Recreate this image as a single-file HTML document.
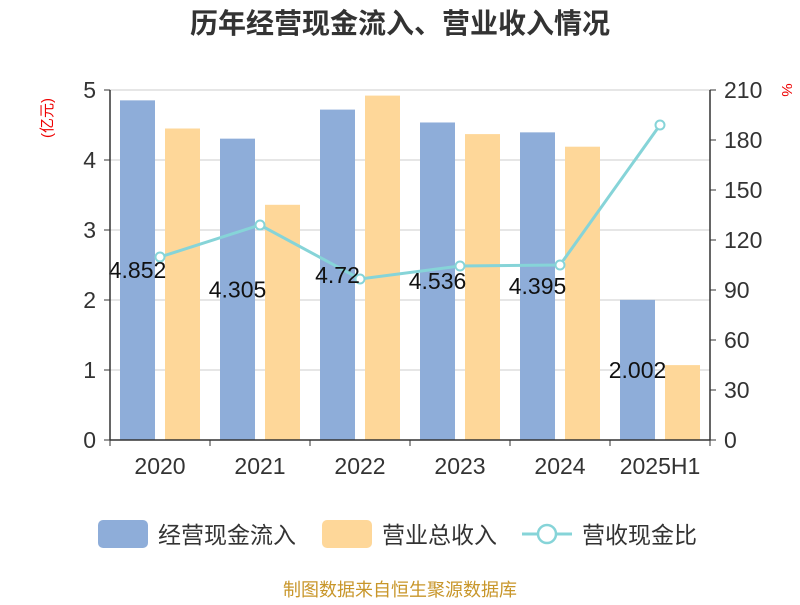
<!DOCTYPE html>
<html><head><meta charset="utf-8"><style>
body{margin:0;background:#fff;font-family:"Liberation Sans","Noto Sans CJK SC",sans-serif}
</style></head><body>
<svg id="c" width="800" height="600" xmlns="http://www.w3.org/2000/svg" font-family="Liberation Sans, Noto Sans CJK SC, sans-serif">
<text x="400" y="33" text-anchor="middle" font-size="28" font-weight="bold" fill="#333">历年经营现金流入、营业收入情况</text>
<text transform="translate(52,118) rotate(-90)" text-anchor="middle" font-size="15" fill="#e00">(亿元)</text>
<text transform="translate(782,90) rotate(90)" text-anchor="middle" font-size="15" fill="#e00">%</text>
<g id="grid"></g><g id="bars"></g><g id="line"></g><g id="labels"></g><g id="axes"></g>
<g>
<rect x="98" y="520" width="50" height="28" rx="5" fill="#8eadd9"/>
<text x="158" y="543" font-size="23" fill="#333">经营现金流入</text>
<rect x="322" y="520" width="50" height="28" rx="5" fill="#fed799"/>
<text x="382" y="543" font-size="23" fill="#333">营业总收入</text>
<line x1="522" y1="534" x2="572" y2="534" stroke="#86d4d8" stroke-width="3"/>
<circle cx="547" cy="534" r="9" fill="#fff" stroke="#86d4d8" stroke-width="2.5"/>
<text x="582" y="543" font-size="23" fill="#333">营收现金比</text>
</g>
<text x="400" y="596" text-anchor="middle" font-size="18" fill="#c8962a">制图数据来自恒生聚源数据库</text>
</svg>
<script>
const categories=["2020","2021","2022","2023","2024","2025H1"];
const cashInflow=[4.852,4.305,4.72,4.536,4.395,2.002];
const revenue=[4.45,3.36,4.92,4.37,4.19,1.07];
const ratio=[109.8,129,96.6,104.4,105,189];
const leftTicks=[0,1,2,3,4,5];
const rightTicks=[0,30,60,90,120,150,180,210];
const NS="http://www.w3.org/2000/svg";
const X0=110,X1=710,Y0=440,Y1=90;
const bw=(X1-X0)/categories.length;
const yL=v=>Y0-(v/5)*(Y0-Y1);
const yR=v=>Y0-(v/210)*(Y0-Y1);
const xc=i=>X0+bw*i+bw/2;
function mk(p,t,a){const e=document.createElementNS(NS,t);for(const k in a)e.setAttribute(k,a[k]);document.getElementById(p).appendChild(e);return e;}
leftTicks.forEach(t=>{
 if(t>0){const g=mk('grid','line',{x1:X0,x2:X1,y1:yL(t),y2:yL(t),stroke:'#ccc'});
 
 }
 const l=mk('axes','text',{x:96,y:yL(t)+8,'text-anchor':'end','font-size':23,fill:'#333'});l.textContent=t;
 
 
});
rightTicks.forEach(t=>{
 const l=mk('axes','text',{x:724,y:yR(t)+8,'font-size':23,fill:'#333'});l.textContent=t;
 
 
});
let a=mk('axes','line',{x1:X0,x2:X1,y1:Y0,y2:Y0,stroke:'#333','stroke-width':1.5});


a=mk('axes','line',{x1:X0,x2:X0,y1:Y1,y2:Y0,stroke:'#333','stroke-width':1.5});


a=mk('axes','line',{x1:X1,x2:X1,y1:Y1,y2:Y0,stroke:'#333','stroke-width':1.5});


for(let i=0;i<=categories.length;i++){const t=mk('axes','line',{x1:X0+bw*i,x2:X0+bw*i,y1:Y0,y2:Y0+6,stroke:'#333'});
 
 }
leftTicks.forEach(t=>{const k=mk('axes','line',{x1:X0-6,x2:X0,y1:yL(t),y2:yL(t),stroke:'#333'});
 
 });
rightTicks.forEach(t=>{const k=mk('axes','line',{x1:X1,x2:X1+6,y1:yR(t),y2:yR(t),stroke:'#333'});
 
 });
categories.forEach((c,i)=>{
 const s=X0+bw*i;
 const b=mk('bars','rect',{x:s+10,y:yL(cashInflow[i]),width:35,height:Y0-yL(cashInflow[i]),fill:'#8eadd9'});
 
 
 const r=mk('bars','rect',{x:s+55,y:yL(revenue[i]),width:35,height:Y0-yL(revenue[i]),fill:'#fed799'});
 
 
 const l=mk('axes','text',{x:xc(i),y:474,'text-anchor':'middle','font-size':23,fill:'#333'});l.textContent=c;
 
 
 const v=mk('labels','text',{x:s+27.5,y:(yL(cashInflow[i])+Y0)/2+8,'text-anchor':'middle','font-size':23,fill:'#111'});v.textContent=cashInflow[i];
 
 
});
const pl=mk('line','polyline',{points:ratio.map((v,i)=>xc(i)+','+yR(v)).join(' '),fill:'none',stroke:'#86d4d8','stroke-width':3});


ratio.forEach((v,i)=>{const p=mk('line','circle',{cx:xc(i),cy:yR(v),r:4.5,fill:'#fff',stroke:'#86d4d8','stroke-width':2});
 
 });
</script>
</body></html>
